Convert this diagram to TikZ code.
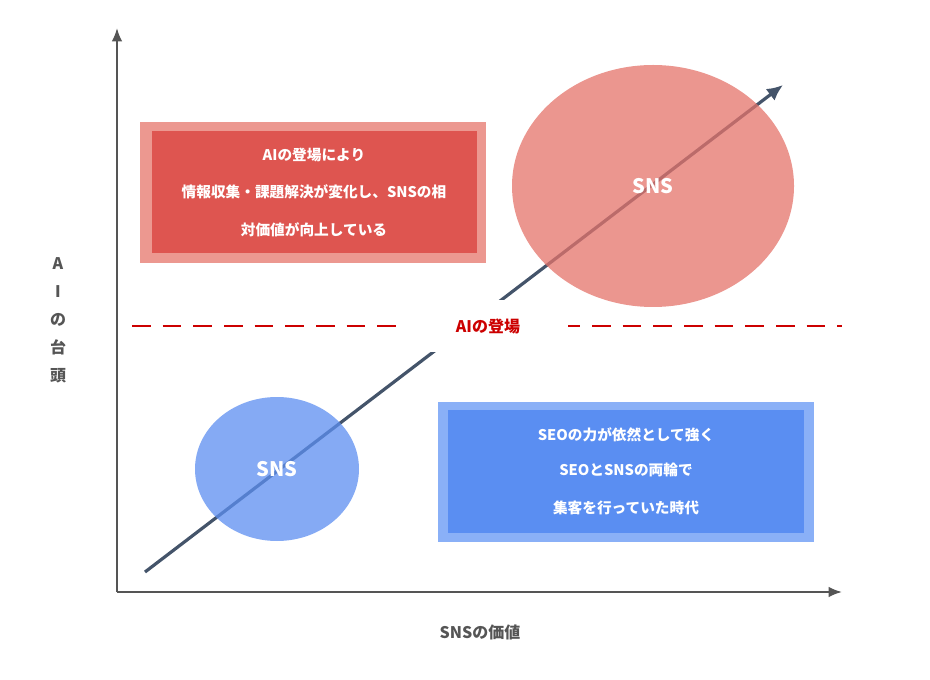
\documentclass[tikz,border=0pt]{standalone}
\usepackage{fontspec}
\setmainfont{Noto Sans CJK JP}
\usetikzlibrary{positioning}
\usetikzlibrary{arrows.meta}
\definecolor{axisgray}{HTML}{555555}
\definecolor{redouter}{HTML}{EC9890}
\definecolor{redinner}{HTML}{DE5550}
\definecolor{redoval}{HTML}{E4736A}
\definecolor{blueouter}{HTML}{8AB0F7}
\definecolor{blueinner}{HTML}{5A8EF2}
\definecolor{bluoval}{HTML}{5C8EF0}
\definecolor{trendline}{HTML}{44546A}
\definecolor{dashred}{HTML}{CC0000}
\tikzset{
  axis/.style={draw=axisgray, line width=1.6pt, -{Latex[length=10pt,width=8pt]}},
  boxtext/.style={text=white, font=\bfseries\fontsize{11}{13}\selectfont, align=center},
}
\begin{document}
\begin{tikzpicture}[x=0.75pt, y=-0.75pt]
      \useasboundingbox (0,0) rectangle (930,680);
      % AXES
      \coordinate (origin) at (117,592);
      \coordinate (ytop) at (117,28);
      \coordinate (xend) at (842,592);
      \draw[axis] (origin) -- (ytop);
      \draw[axis] (origin) -- (xend);
      \node[text=axisgray, font=\bfseries\fontsize{12}{14}\selectfont] (xlabel) at (480,632) {SNSの価値};
      \node[text=axisgray, font=\bfseries\fontsize{12}{21}\selectfont, align=center] (ylabel) at (58,320) {A\\I\\の\\台\\頭};

      % TREND
      \coordinate (tstart) at (145,572);
      \coordinate (tend) at (783,85);
      \draw[draw=trendline, line width=2.4pt, -{Latex[length=12pt,width=11pt]}] (tstart) -- (tend);

      % DASHED LINE
      \coordinate (dleft) at (132,326);
      \coordinate (dright) at (842,326);
      \draw[dashred, line width=2.2pt, dash pattern=on 14pt off 9pt] (dleft) -- (dright);
      \node[fill=white, minimum width=160*0.75pt, minimum height=52*0.75pt, text=dashred,
            font=\bfseries\fontsize{12}{14}\selectfont] (ailabel) at (488,326) {AIの登場};

      % OVALS
      \fill[redoval, opacity=0.75] (653,186) ellipse (141*0.75pt and 121*0.75pt);
      \node[text=white, font=\bfseries\fontsize{15}{17}\selectfont] (snshigh) at (653,186) {SNS};
      \fill[bluoval, opacity=0.75] (277,469) ellipse (82*0.75pt and 72*0.75pt);
      \node[text=white, font=\bfseries\fontsize{15}{17}\selectfont] (snslow) at (277,469) {SNS};

      % BOXES
      \fill[redouter] (140,122) rectangle (486,263);
      \fill[redinner] (152,131) rectangle (477,253);
      \node[boxtext] (rtext1) at (314,155) {AIの登場により};
      \node[boxtext] (rtext2) at (314,192) {情報収集・課題解決が変化し、SNSの相};
      \node[boxtext] (rtext3) at (314,230) {対価値が向上している};

      \fill[blueouter] (438,402) rectangle (814,542);
      \fill[blueinner] (448,410) rectangle (804,533);
      \node[boxtext] (btext1) at (626,435) {SEOの力が依然として強く};
      \node[boxtext] (btext2) at (626,470) {SEOとSNSの両輪で};
      \node[boxtext] (btext3) at (626,508) {集客を行っていた時代};
\end{tikzpicture}
\end{document}
